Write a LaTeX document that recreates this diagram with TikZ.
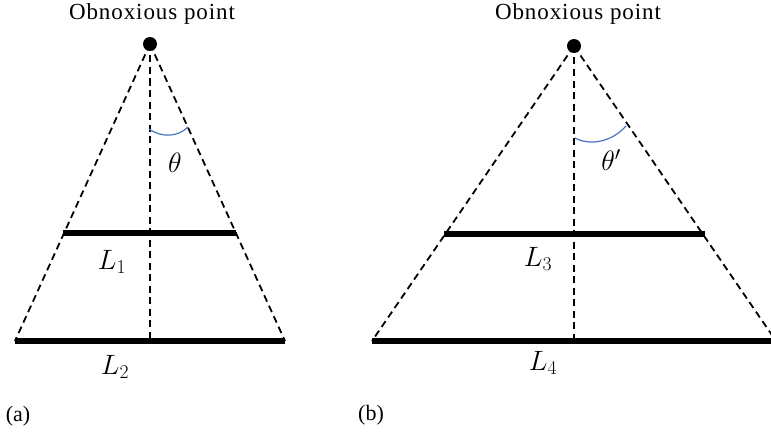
\RequirePackage{fix-cm}
\documentclass[tikz,border=0pt]{standalone}
\usepackage{fontspec}
\setmainfont{Liberation Serif}
\begin{document}
\begin{tikzpicture}[x=1pt,y=-1pt,
  guide/.style={dashed,dash pattern=on 7pt off 4.5pt,line width=1.8pt},
  bar/.style={line width=5.5pt},
  anglearc/.style={draw=arcblue,line width=1.2pt},
  apexdot/.style={circle,fill=black,inner sep=0pt,minimum size=14pt},
  toplabel/.style={font=\fontsize{23}{26}\selectfont\addfontfeature{LetterSpace=4}},
  mathlabel/.style={font=\fontsize{28}{32}\selectfont},
  sublabel/.style={font=\fontsize{22}{26}\selectfont}]
\definecolor{arcblue}{RGB}{70,115,195}
\useasboundingbox (0,0) rectangle (771,436);
\clip (0,0) rectangle (771,436);
% ---------- (a) ----------
\node[apexdot] (A) at (150,44) {};
\node[toplabel] (tA) at (152,14) {Obnoxious point};
\coordinate (A0) at (150,44);
\coordinate (AL) at (15,341);
\coordinate (AR) at (285,341);
\coordinate (AM) at (150,341);
\coordinate (L1a) at (63,233);
\coordinate (L1b) at (236,233);
\draw[guide] (A0) -- (AL);
\draw[guide] (A0) -- (AR);
\draw[guide] (A0) -- (AM);
\draw[bar] (L1a) -- (L1b);
\draw[bar] (AL) -- (AR);
\coordinate (a1) at (149,129);
\coordinate (a2) at (188,127);
\draw[anglearc] (a1) .. controls (162,138) and (178,137) .. (a2);
\node[mathlabel] (th) at (175,163) {$\theta$};
\node[mathlabel] (l1) at (112,262) {$L_1$};
\node[mathlabel] (l2) at (115,367) {$L_2$};
\node[sublabel] (ca) at (18,416) {(a)};
% ---------- (b) ----------
\node[apexdot] (B) at (574,46) {};
\node[toplabel] (tB) at (578,14) {Obnoxious point};
\coordinate (B0) at (574,46);
\coordinate (BL) at (372,341);
\coordinate (BR) at (776,341);
\coordinate (BM) at (574,341);
\coordinate (L3a) at (444,234);
\coordinate (L3b) at (705,234);
\draw[guide] (B0) -- (BL);
\draw[guide] (B0) -- (BR);
\draw[guide] (B0) -- (BM);
\draw[bar] (L3a) -- (L3b);
\draw[bar] (BL) -- (BR);
\coordinate (b1) at (575,138);
\coordinate (b2) at (626,126);
\draw[anglearc] (b1) .. controls (590,146) and (612,142) .. (b2);
\node[mathlabel] (thp) at (611,160) {$\theta'$};
\node[mathlabel] (l3) at (538,259) {$L_3$};
\node[mathlabel] (l4) at (543,363) {$L_4$};
\node[sublabel] (cb) at (371,415) {(b)};
\end{tikzpicture}
\end{document}
